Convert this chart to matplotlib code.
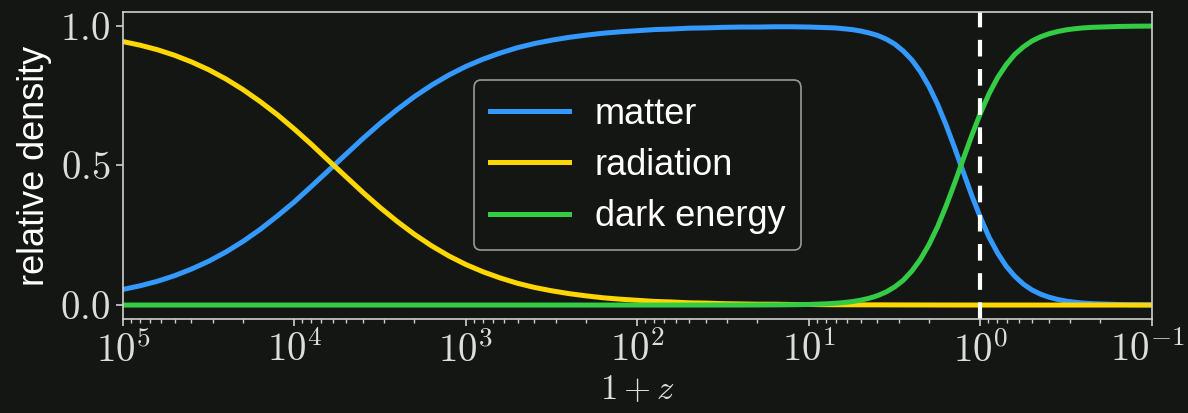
import matplotlib
matplotlib.use("Agg")
import matplotlib.pyplot as plt
import matplotlib.transforms as mtransforms
from matplotlib.ticker import LogLocator, NullFormatter

# log10(1+z) sample positions
log_1pz = [5.0, 4.9, 4.8, 4.7, 4.6, 4.5, 4.4, 4.3, 4.2, 4.1,
           4.0, 3.9, 3.8, 3.7, 3.6, 3.5, 3.4, 3.3, 3.2, 3.1,
           3.0, 2.9, 2.8, 2.7, 2.6, 2.5, 2.4, 2.3, 2.2, 2.1,
           2.0, 1.9, 1.8, 1.7, 1.6, 1.5, 1.4, 1.3, 1.2, 1.1,
           1.0, 0.9, 0.85, 0.8, 0.75, 0.7, 0.65, 0.6, 0.55, 0.5,
           0.45, 0.4, 0.35, 0.3, 0.25, 0.2, 0.15, 0.1, 0.05, 0.0,
           -0.05, -0.1, -0.15, -0.2, -0.25, -0.3, -0.35, -0.4, -0.45, -0.5,
           -0.55, -0.6, -0.65, -0.7, -0.8, -0.9, -1.0]

matter = [0.056, 0.069, 0.085, 0.105, 0.129, 0.157, 0.190, 0.228, 0.271, 0.319,
          0.370, 0.426, 0.483, 0.540, 0.597, 0.651, 0.701, 0.747, 0.788, 0.824,
          0.855, 0.881, 0.903, 0.922, 0.937, 0.949, 0.959, 0.967, 0.974, 0.979,
          0.983, 0.987, 0.989, 0.992, 0.993, 0.995, 0.996, 0.996, 0.997, 0.997,
          0.996, 0.994, 0.993, 0.990, 0.987, 0.982, 0.975, 0.966, 0.953, 0.935,
          0.910, 0.878, 0.836, 0.783, 0.719, 0.644, 0.562, 0.476, 0.391, 0.313,
          0.243, 0.186, 0.139, 0.103, 0.075, 0.054, 0.039, 0.028, 0.020, 0.014,
          0.010, 0.007, 0.005, 0.004, 0.002, 0.001, 0.0005]

radiation = [0.944, 0.931, 0.915, 0.895, 0.871, 0.843, 0.810, 0.772, 0.729, 0.682,
             0.630, 0.575, 0.517, 0.460, 0.403, 0.349, 0.299, 0.253, 0.212, 0.176,
             0.145, 0.119, 0.097, 0.078, 0.063, 0.051, 0.041, 0.033, 0.026, 0.021,
             0.017, 0.013, 0.011, 0.008, 0.007, 0.005, 0.004, 0.003, 0.003, 0.002,
             0.002, 0.0013, 0.0012, 0.0011, 0.0009, 0.0008, 0.0007, 0.0007, 0.0006, 0.0005,
             0.0004, 0.0004, 0.0003, 0.0003, 0.0002, 0.0002, 0.0001, 0.0001, 0.0001, 0.0001,
             0.0, 0.0, 0.0, 0.0, 0.0, 0.0, 0.0, 0.0, 0.0, 0.0,
             0.0, 0.0, 0.0, 0.0, 0.0, 0.0, 0.0]

dark_energy = [0.0, 0.0, 0.0, 0.0, 0.0, 0.0, 0.0, 0.0, 0.0, 0.0,
               0.0, 0.0, 0.0, 0.0, 0.0, 0.0, 0.0, 0.0, 0.0, 0.0,
               0.0, 0.0, 0.0, 0.0, 0.0, 0.0, 0.0, 0.0, 0.0, 0.0,
               0.0, 0.0, 0.0, 0.0, 0.0, 0.0001, 0.0001, 0.0003, 0.0006, 0.0011,
               0.0022, 0.0044, 0.0062, 0.0087, 0.0122, 0.0172, 0.0241, 0.0337, 0.0469, 0.065,
               0.089, 0.122, 0.164, 0.217, 0.281, 0.356, 0.438, 0.524, 0.609, 0.688,
               0.757, 0.815, 0.861, 0.898, 0.925, 0.946, 0.961, 0.972, 0.980, 0.986,
               0.990, 0.993, 0.995, 0.996, 0.998, 0.999, 0.9995]

today = 1.0
xtick_vals = [1e5, 1e4, 1e3, 1e2, 1e1, 1e0, 1e-1]
xtick_labels = [r"$10^{5}$", r"$10^{4}$", r"$10^{3}$", r"$10^{2}$",
                r"$10^{1}$", r"$10^{0}$", r"$10^{-1}$"]
ytick_vals = [0.0, 0.5, 1.0]
ytick_labels = [r"$0.0$", r"$0.5$", r"$1.0$"]

bg = "#141613"
fg = "#dddddd"

plt.rcParams["mathtext.fontset"] = "cm"
plt.rcParams["font.family"] = ["Liberation Sans", "DejaVu Sans"]

fig = plt.figure(figsize=(11.88, 4.13), dpi=100, facecolor=bg)
ax = fig.add_axes([0.1035, 0.2276, 0.8662, 0.7434], facecolor=bg)

z1 = [10 ** v for v in log_1pz]
ax.plot(z1, matter, color="#3399ff", lw=3.6, label="matter")
ax.plot(z1, radiation, color="#ffd700", lw=3.6, label="radiation")
ax.plot(z1, dark_energy, color="#33cc44", lw=3.6, label="dark energy")
ax.axvline(today, color="white", lw=3, linestyle=(0, (4, 3)))

ax.set_xscale("log")
ax.set_xlim(1e5, 1e-1)
ax.set_ylim(-0.05, 1.05)

ax.set_xticks(xtick_vals)
ax.set_xticklabels(xtick_labels)
ax.xaxis.set_minor_locator(LogLocator(base=10, subs=range(2, 10)))
ax.xaxis.set_minor_formatter(NullFormatter())
ax.set_yticks(ytick_vals)
ax.set_yticklabels(ytick_labels)

for s in ax.spines.values():
    s.set_color("#d0d0d0")
    s.set_linewidth(1.2)
ax.tick_params(which="major", colors="#d0d0d0", labelcolor=fg, labelsize=28,
               length=5, width=1.2, pad=4)
ax.tick_params(which="minor", colors="#d0d0d0", length=3, width=1.0)

# nudge the last x label so it stays inside the figure
last = ax.get_xticklabels()[-1]
last.set_transform(last.get_transform() +
                   mtransforms.ScaledTranslation(-4 / 100, 0, fig.dpi_scale_trans))

ax.set_xlabel(r"$1+z$", fontsize=25, color=fg, labelpad=2)
ax.set_ylabel("relative density", fontsize=26, color="white", labelpad=6)

leg = ax.legend(loc="center", fontsize=26, frameon=True, facecolor=bg,
                edgecolor="#999999", framealpha=1.0, handlelength=2.2,
                handletextpad=0.7, labelspacing=0.45, borderpad=0.45)
for t in leg.get_texts():
    t.set_color("white")
leg.get_frame().set_linewidth(1.2)

fig.savefig("out.png", dpi=100, facecolor=bg)
